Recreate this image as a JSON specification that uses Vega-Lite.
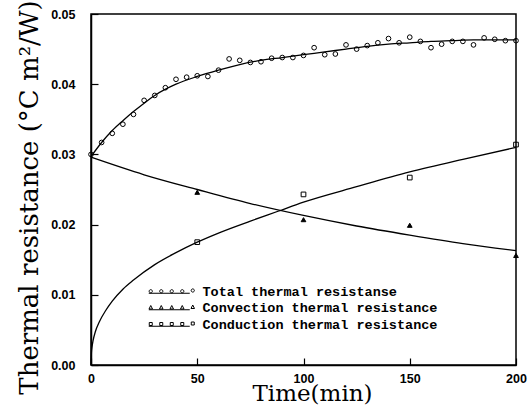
{
  "$schema": "https://vega.github.io/schema/vega-lite/v6.json",
  "width": 425,
  "height": 351,
  "autosize": {"type": "none"},
  "padding": {"left": 91, "top": 14, "right": 12, "bottom": 43},
  "background": "white",
  "config": {
    "view": {"stroke": "black", "strokeWidth": 1.5},
    "axis": {
      "domainColor": "black", "domainWidth": 1.5, "tickColor": "black", "tickWidth": 1.2,
      "grid": false, "labelFont": "Liberation Sans", "labelFontWeight": "bold", "labelFontSize": 12.5,
      "labelColor": "black", "titleFont": "DejaVu Serif", "titleFontWeight": "normal", "titleColor": "black"
    }
  },
  "datasets": {
    "pts": [
      {"series": "Total thermal resistanse", "t": 0, "r": 0.0300},
      {"series": "Total thermal resistanse", "t": 5, "r": 0.0317},
      {"series": "Total thermal resistanse", "t": 10, "r": 0.0330},
      {"series": "Total thermal resistanse", "t": 15, "r": 0.0343},
      {"series": "Total thermal resistanse", "t": 20, "r": 0.0357},
      {"series": "Total thermal resistanse", "t": 25, "r": 0.0377},
      {"series": "Total thermal resistanse", "t": 30, "r": 0.0384},
      {"series": "Total thermal resistanse", "t": 35, "r": 0.0395},
      {"series": "Total thermal resistanse", "t": 40, "r": 0.0407},
      {"series": "Total thermal resistanse", "t": 45, "r": 0.0410},
      {"series": "Total thermal resistanse", "t": 50, "r": 0.0412},
      {"series": "Total thermal resistanse", "t": 55, "r": 0.0411},
      {"series": "Total thermal resistanse", "t": 60, "r": 0.0420},
      {"series": "Total thermal resistanse", "t": 65, "r": 0.0436},
      {"series": "Total thermal resistanse", "t": 70, "r": 0.0434},
      {"series": "Total thermal resistanse", "t": 75, "r": 0.0431},
      {"series": "Total thermal resistanse", "t": 80, "r": 0.0432},
      {"series": "Total thermal resistanse", "t": 85, "r": 0.0437},
      {"series": "Total thermal resistanse", "t": 90, "r": 0.0438},
      {"series": "Total thermal resistanse", "t": 95, "r": 0.0438},
      {"series": "Total thermal resistanse", "t": 100, "r": 0.0441},
      {"series": "Total thermal resistanse", "t": 105, "r": 0.0452},
      {"series": "Total thermal resistanse", "t": 110, "r": 0.0442},
      {"series": "Total thermal resistanse", "t": 115, "r": 0.0443},
      {"series": "Total thermal resistanse", "t": 120, "r": 0.0456},
      {"series": "Total thermal resistanse", "t": 125, "r": 0.0450},
      {"series": "Total thermal resistanse", "t": 130, "r": 0.0455},
      {"series": "Total thermal resistanse", "t": 135, "r": 0.0459},
      {"series": "Total thermal resistanse", "t": 140, "r": 0.0465},
      {"series": "Total thermal resistanse", "t": 145, "r": 0.0459},
      {"series": "Total thermal resistanse", "t": 150, "r": 0.0467},
      {"series": "Total thermal resistanse", "t": 155, "r": 0.0461},
      {"series": "Total thermal resistanse", "t": 160, "r": 0.0452},
      {"series": "Total thermal resistanse", "t": 165, "r": 0.0457},
      {"series": "Total thermal resistanse", "t": 170, "r": 0.0461},
      {"series": "Total thermal resistanse", "t": 175, "r": 0.0461},
      {"series": "Total thermal resistanse", "t": 180, "r": 0.0456},
      {"series": "Total thermal resistanse", "t": 185, "r": 0.0466},
      {"series": "Total thermal resistanse", "t": 190, "r": 0.0464},
      {"series": "Total thermal resistanse", "t": 195, "r": 0.0462},
      {"series": "Total thermal resistanse", "t": 200, "r": 0.0462},
      {"series": "Convection thermal resistance", "t": 50, "r": 0.0246},
      {"series": "Convection thermal resistance", "t": 100, "r": 0.0207},
      {"series": "Convection thermal resistance", "t": 150, "r": 0.0199},
      {"series": "Convection thermal resistance", "t": 200, "r": 0.0156},
      {"series": "Conduction thermal resistance", "t": 50, "r": 0.0175},
      {"series": "Conduction thermal resistance", "t": 100, "r": 0.0243},
      {"series": "Conduction thermal resistance", "t": 150, "r": 0.0267},
      {"series": "Conduction thermal resistance", "t": 200, "r": 0.0314}
    ],
    "fit": [
      {"series": "Total", "t": 0, "r": 0.0297},
      {"series": "Total", "t": 5, "r": 0.0317},
      {"series": "Total", "t": 10, "r": 0.0334},
      {"series": "Total", "t": 15, "r": 0.0348},
      {"series": "Total", "t": 20, "r": 0.0361},
      {"series": "Total", "t": 25, "r": 0.0373},
      {"series": "Total", "t": 30, "r": 0.0384},
      {"series": "Total", "t": 40, "r": 0.0400},
      {"series": "Total", "t": 50, "r": 0.0411},
      {"series": "Total", "t": 60, "r": 0.0420},
      {"series": "Total", "t": 70, "r": 0.0428},
      {"series": "Total", "t": 80, "r": 0.0434},
      {"series": "Total", "t": 90, "r": 0.0438},
      {"series": "Total", "t": 100, "r": 0.0442},
      {"series": "Total", "t": 110, "r": 0.0446},
      {"series": "Total", "t": 120, "r": 0.0450},
      {"series": "Total", "t": 130, "r": 0.0454},
      {"series": "Total", "t": 140, "r": 0.0457},
      {"series": "Total", "t": 150, "r": 0.0459},
      {"series": "Total", "t": 160, "r": 0.0461},
      {"series": "Total", "t": 170, "r": 0.0462},
      {"series": "Total", "t": 180, "r": 0.0463},
      {"series": "Total", "t": 190, "r": 0.0463},
      {"series": "Total", "t": 200, "r": 0.0463},
      {"series": "Convection", "t": 0, "r": 0.0296},
      {"series": "Convection", "t": 25, "r": 0.0271},
      {"series": "Convection", "t": 50, "r": 0.0250},
      {"series": "Convection", "t": 75, "r": 0.0230},
      {"series": "Convection", "t": 100, "r": 0.0213},
      {"series": "Convection", "t": 125, "r": 0.0198},
      {"series": "Convection", "t": 150, "r": 0.0185},
      {"series": "Convection", "t": 175, "r": 0.0173},
      {"series": "Convection", "t": 200, "r": 0.0163},
      {"series": "Conduction", "t": 0, "r": 0.0},
      {"series": "Conduction", "t": 0.2, "r": 0.0018},
      {"series": "Conduction", "t": 0.5, "r": 0.0026},
      {"series": "Conduction", "t": 1, "r": 0.0035},
      {"series": "Conduction", "t": 2, "r": 0.0047},
      {"series": "Conduction", "t": 4, "r": 0.0062},
      {"series": "Conduction", "t": 7, "r": 0.0078},
      {"series": "Conduction", "t": 10, "r": 0.0091},
      {"series": "Conduction", "t": 15, "r": 0.0108},
      {"series": "Conduction", "t": 20, "r": 0.0121},
      {"series": "Conduction", "t": 30, "r": 0.0143},
      {"series": "Conduction", "t": 40, "r": 0.0160},
      {"series": "Conduction", "t": 50, "r": 0.0175},
      {"series": "Conduction", "t": 60, "r": 0.0188},
      {"series": "Conduction", "t": 75, "r": 0.0205},
      {"series": "Conduction", "t": 88, "r": 0.0219},
      {"series": "Conduction", "t": 100, "r": 0.0232},
      {"series": "Conduction", "t": 125, "r": 0.0254},
      {"series": "Conduction", "t": 150, "r": 0.0275},
      {"series": "Conduction", "t": 175, "r": 0.0293},
      {"series": "Conduction", "t": 200, "r": 0.0310}
    ]
  },
  "encoding": {
    "x": {
      "field": "t", "type": "quantitative",
      "scale": {"domain": [0, 200], "nice": false, "zero": false},
      "axis": {
        "values": [0, 50, 100, 150, 200], "tickSize": -7, "labelPadding": 14,
        "labelBaseline": "top", "labelFlush": false,
        "title": "Time(min)", "titleFontSize": 23, "titleX": 221, "titleY": 35,
        "titleBaseline": "alphabetic", "titleAlign": "center"
      }
    },
    "y": {
      "field": "r", "type": "quantitative",
      "scale": {"domain": [0, 0.05], "nice": false},
      "axis": {
        "values": [0, 0.01, 0.02, 0.03, 0.04, 0.05], "format": ".2f", "tickSize": -7, "labelPadding": 23,
        "labelFlush": false,
        "title": "Thermal resistance (°C m²/W)", "titleFontSize": 26, "titleX": -54, "titleY": 183,
        "titleAngle": 270, "titleBaseline": "alphabetic", "titleAlign": "center"
      }
    }
  },
  "layer": [
    {
      "data": {"name": "fit"},
      "mark": {"type": "line", "color": "black", "strokeWidth": 1.3, "interpolate": "monotone"},
      "encoding": {"detail": {"field": "series"}}
    },
    {
      "data": {"name": "pts"},
      "mark": {"type": "point", "strokeWidth": 1, "size": 22, "opacity": 1},
      "encoding": {
        "shape": {
          "field": "series", "type": "nominal",
          "scale": {
            "domain": ["Conduction thermal resistance", "Convection thermal resistance", "Total thermal resistanse"],
            "range": ["square", "triangle-up", "circle"]
          },
          "legend": null
        },
        "stroke": {
          "field": "series", "type": "nominal",
          "scale": {
            "domain": ["Total thermal resistanse", "Convection thermal resistance", "Conduction thermal resistance"],
            "range": ["black", "black", "black"]
          },
          "legend": {
            "orient": "none", "legendX": 56, "legendY": 271, "padding": 0, "title": null,
            "symbolSize": 100, "symbolStrokeWidth": 1, "labelFont": "Liberation Mono", "labelFontWeight": "bold", "labelFontSize": 13.5,
            "labelColor": "black", "labelOffset": 42, "rowPadding": 1.5, "labelLimit": 0,
            "symbolType": {"expr": "datum.value === 'Total thermal resistanse' ? 'M-0.92,-0.1A0.32,0.32 0 1 0 -0.28,-0.1A0.32,0.32 0 1 0 -0.92,-0.1M1.18,-0.1A0.32,0.32 0 1 0 1.82,-0.1A0.32,0.32 0 1 0 1.18,-0.1M3.28,-0.1A0.32,0.32 0 1 0 3.92,-0.1A0.32,0.32 0 1 0 3.28,-0.1M5.38,-0.1A0.32,0.32 0 1 0 6.02,-0.1A0.32,0.32 0 1 0 5.38,-0.1M7.48,-0.25A0.32,0.32 0 1 0 8.12,-0.25A0.32,0.32 0 1 0 7.48,-0.25M-1,0.3L7.2,0.3' : datum.value === 'Convection thermal resistance' ? 'M-0.95,0.15L-0.6,-0.55L-0.25,0.15ZM1.15,0.15L1.5,-0.55L1.85,0.15ZM3.25,0.15L3.6,-0.55L3.95,0.15ZM5.35,0.15L5.7,-0.55L6.05,0.15ZM7.45,0.05L7.8,-0.65L8.15,0.05ZM-1,0.3L7.2,0.3' : 'M-0.9,-0.45L-0.3,-0.45L-0.3,0.15L-0.9,0.15ZM1.2,-0.45L1.8,-0.45L1.8,0.15L1.2,0.15ZM3.3,-0.45L3.9,-0.45L3.9,0.15L3.3,0.15ZM5.4,-0.45L6,-0.45L6,0.15L5.4,0.15ZM7.5,-0.55L8.1,-0.55L8.1,0.05L7.5,0.05ZM-1,0.3L7.2,0.3'"}
          }
        },
        "fill": {
          "condition": {"test": "datum.series === 'Convection thermal resistance'", "value": "black"},
          "value": "transparent"
        }
      }
    }
  ]
}
